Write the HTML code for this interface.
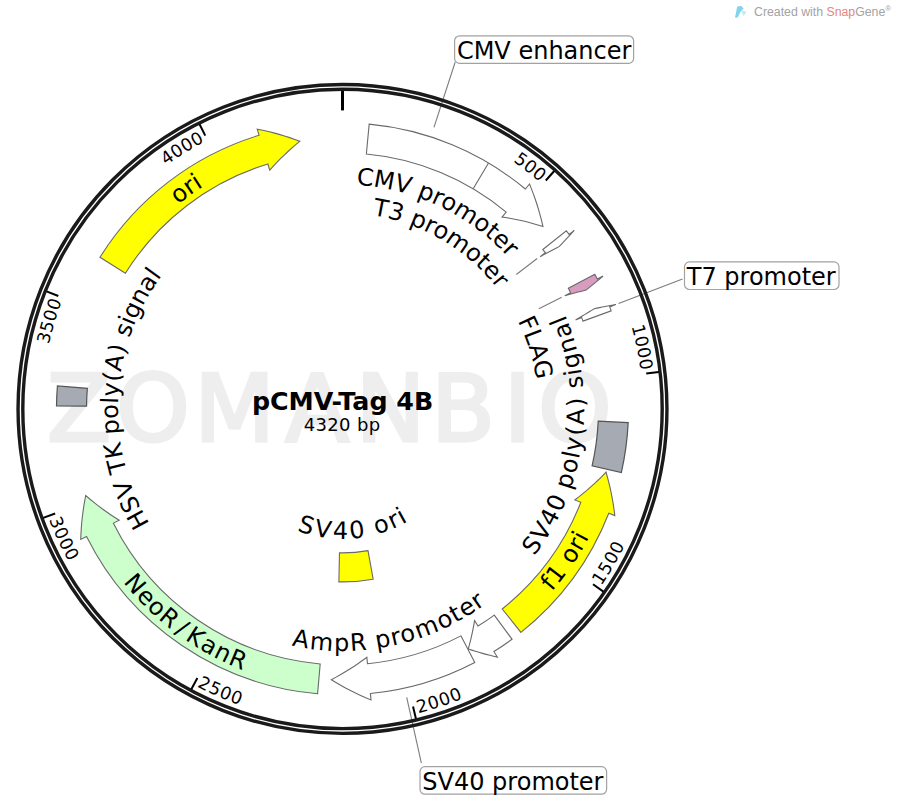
<!DOCTYPE html>
<html><head><meta charset="utf-8"><title>pCMV-Tag 4B</title>
<style>html,body{margin:0;padding:0;background:#fff;overflow:hidden;}svg{display:block;}</style>
</head><body>
<svg width="900" height="803" viewBox="0 0 900 803" font-family="DejaVu Sans, Verdana, sans-serif">
<defs><path id="p1" d="M108.67,597.81 A300.6,300.6 0 0 1 539.97,182.26"/><path id="p2" d="M42.24,394.57 A300.6,300.6 0 0 1 640.68,370.87"/><path id="p3" d="M590.12,578.44 A300.1,300.1 0 0 0 128.08,198.94"/><path id="p4" d="M414.77,700.17 A300.1,300.1 0 0 0 321.91,109.51"/><path id="p5" d="M202.85,674.53 A300.1,300.1 0 0 0 526.15,171.56"/><path id="p6" d="M61.59,514.49 A300.1,300.1 0 0 0 637.48,353.69"/><path id="p7" d="M599.99,564.02 A300.6,300.6 0 0 1 61.99,300.85"/><path id="p8" d="M431.73,695.95 A300.6,300.6 0 0 1 204.78,141.70"/><path id="p9" d="M356.21,184.82 A224.5,224.5 0 0 1 367.91,631.96"/><path id="p10" d="M372.32,215.18 A196,196 0 0 1 346.78,604.85"/><path id="p11" d="M517.60,320.83 A196,196 0 0 1 185.35,526.03"/><path id="p12" d="M149.56,523.69 A224.5,224.5 0 0 1 512.57,262.36"/><path id="p13" d="M178.14,204.48 A262.3,262.3 0 0 1 539.86,581.67"/><path id="p14" d="M520.01,545.85 A224.2,224.2 0 0 0 191.47,243.21"/><path id="p15" d="M538.50,580.49 A260.5,260.5 0 0 0 179.27,205.88"/><path id="p16" d="M294.67,628.25 A224.5,224.5 0 0 0 427.69,201.19"/><path id="p17" d="M302.18,513.93 A112.5,112.5 0 0 0 400.44,312.47"/><path id="p18" d="M136.61,570.92 A262,262 0 0 0 573.40,285.09"/></defs>
<rect width="900" height="803" fill="#fff"/>
<text x="47.0 116.2 194.3 285.2 355.5 431.0 503.7 538.1" y="441.3" font-family="DejaVu Sans" font-size="93.5" fill="#eeeeee" stroke="#eeeeee" stroke-width="3.2">ZOMANBIO</text>
<line x1="433.97" y1="127.39" x2="455.14" y2="62.24" stroke="#7c7c7c" stroke-width="1.1"/><line x1="618.56" y1="303.48" x2="682.55" y2="279.05" stroke="#7c7c7c" stroke-width="1.1"/><line x1="406.71" y1="697.34" x2="421.38" y2="763.23" stroke="#7c7c7c" stroke-width="1.1"/><line x1="537.14" y1="258.46" x2="516.33" y2="274.55" stroke="#7c7c7c" stroke-width="1.1"/><line x1="561.69" y1="297.22" x2="538.88" y2="308.84" stroke="#7c7c7c" stroke-width="1.1"/>
<circle cx="342.5" cy="408.9" r="324.45" fill="none" stroke="#1a1a1a" stroke-width="3.4"/>
<circle cx="342.5" cy="408.9" r="319.7" fill="none" stroke="#1a1a1a" stroke-width="3.4"/>
<line x1="342.50" y1="90.90" x2="342.50" y2="110.40" stroke="#000" stroke-width="3"/><line x1="554.24" y1="170.97" x2="545.79" y2="180.46" stroke="#000" stroke-width="2"/><line x1="658.85" y1="371.92" x2="646.23" y2="373.40" stroke="#000" stroke-width="2"/><line x1="603.40" y1="591.58" x2="593.00" y2="584.30" stroke="#000" stroke-width="2"/><line x1="415.95" y1="718.81" x2="413.02" y2="706.46" stroke="#000" stroke-width="2"/><line x1="191.34" y1="689.24" x2="197.37" y2="678.07" stroke="#000" stroke-width="2"/><line x1="43.21" y1="517.83" x2="55.14" y2="513.49" stroke="#000" stroke-width="2"/><line x1="46.50" y1="291.31" x2="58.31" y2="296.00" stroke="#000" stroke-width="2"/><line x1="199.56" y1="124.28" x2="205.26" y2="135.63" stroke="#000" stroke-width="2"/>
<path d="M366.37,154.02 L369.17,124.15 A286.0,286.0 0 0 1 525.38,189.01 L529.54,184.01 L531.65,189.33 L533.64,194.65 L535.51,199.97 L537.24,205.29 L538.86,210.61 L540.34,215.92 L541.70,221.22 L542.94,226.51 L537.79,224.91 L532.65,223.42 L527.51,222.06 L522.38,220.83 L517.27,219.71 L512.18,218.71 L507.10,217.83 L502.04,217.07 L506.20,212.08 A256.0,256.0 0 0 0 366.37,154.02 Z" fill="#fff" stroke="#6a6a6a" stroke-width="1.1" stroke-linejoin="miter"/><line x1="473.20" y1="188.78" x2="488.52" y2="162.98" stroke="#6a6a6a" stroke-width="1.1"/><path d="M542.85,249.54 L566.33,230.86 A286.0,286.0 0 0 1 569.09,234.40 L574.24,230.43 L572.40,232.45 L570.56,234.46 L568.71,236.46 L566.85,238.46 L564.98,240.45 L563.11,242.43 L561.24,244.41 L559.36,246.38 L556.94,247.64 L554.53,248.90 L552.13,250.18 L549.73,251.46 L547.33,252.75 L544.94,254.05 L542.56,255.36 L540.18,256.67 L545.33,252.70 A256.0,256.0 0 0 0 542.85,249.54 Z" fill="#fff" stroke="#6a6a6a" stroke-width="1.1" stroke-linejoin="miter"/><path d="M568.32,288.32 L594.79,274.19 A286.0,286.0 0 0 1 597.33,279.06 L603.12,276.11 L601.01,277.89 L598.90,279.67 L596.78,281.43 L594.65,283.18 L592.51,284.93 L590.37,286.66 L588.23,288.39 L586.07,290.10 L583.40,290.75 L580.73,291.42 L578.07,292.09 L575.41,292.78 L572.75,293.47 L570.10,294.18 L567.45,294.90 L564.81,295.63 L570.60,292.68 A256.0,256.0 0 0 0 568.32,288.32 Z" fill="#d89cc0" stroke="#6a6a6a" stroke-width="1.1" stroke-linejoin="miter"/><path d="M582.98,321.13 L611.17,310.85 A286.0,286.0 0 0 0 609.68,306.87 L615.75,304.55 L613.06,305.04 L610.37,305.54 L607.69,306.04 L605.00,306.55 L602.32,307.08 L599.64,307.61 L596.97,308.15 L594.29,308.70 L591.97,310.13 L589.64,311.55 L587.31,312.96 L584.97,314.36 L582.63,315.76 L580.29,317.15 L577.94,318.52 L575.58,319.89 L581.66,317.58 A256.0,256.0 0 0 1 582.98,321.13 Z" fill="#fff" stroke="#6a6a6a" stroke-width="1.1" stroke-linejoin="miter"/><path d="M598.21,421.18 L628.17,422.62 A286.0,286.0 0 0 1 621.34,472.51 L592.09,465.83 A256.0,256.0 0 0 0 598.21,421.18 Z" fill="#a6abb3" stroke="#555" stroke-width="1.2"/><path d="M502.21,608.97 L520.93,632.41 A286.0,286.0 0 0 0 608.78,513.25 L614.83,515.63 L614.11,509.98 L613.28,504.39 L612.34,498.86 L611.28,493.39 L610.12,487.98 L608.86,482.64 L607.48,477.37 L606.01,472.16 L602.28,476.02 L598.50,479.77 L594.66,483.41 L590.77,486.94 L586.84,490.36 L582.87,493.66 L578.85,496.86 L574.80,499.94 L580.85,502.31 A256.0,256.0 0 0 1 502.21,608.97 Z" fill="#ffff00" stroke="#6a6a6a" stroke-width="1.1" stroke-linejoin="miter"/><path d="M494.24,615.09 L512.02,639.25 A286.0,286.0 0 0 1 493.89,651.55 L497.33,657.06 L493.59,656.21 L489.88,655.32 L486.19,654.37 L482.54,653.38 L478.92,652.34 L475.34,651.26 L471.78,650.13 L468.26,648.95 L469.24,645.39 L470.17,641.83 L471.04,638.28 L471.86,634.72 L472.62,631.18 L473.32,627.64 L473.97,624.11 L474.57,620.58 L478.01,626.09 A256.0,256.0 0 0 0 494.24,615.09 Z" fill="#fff" stroke="#6a6a6a" stroke-width="1.1" stroke-linejoin="miter"/><path d="M460.91,635.87 L474.78,662.47 A286.0,286.0 0 0 1 370.41,693.54 L371.04,700.00 L365.76,697.78 L360.57,695.46 L355.46,693.04 L350.44,690.54 L345.51,687.95 L340.68,685.27 L335.94,682.51 L331.29,679.67 L336.07,677.14 L340.75,674.52 L345.34,671.82 L349.83,669.05 L354.23,666.20 L358.54,663.27 L362.74,660.27 L366.85,657.21 L367.48,663.68 A256.0,256.0 0 0 0 460.91,635.87 Z" fill="#fff" stroke="#6a6a6a" stroke-width="1.1" stroke-linejoin="miter"/><path d="M320.19,663.93 L317.57,693.81 A286.0,286.0 0 0 1 86.55,536.51 L80.73,539.41 L80.96,533.75 L81.30,528.13 L81.76,522.56 L82.33,517.04 L83.01,511.57 L83.81,506.16 L84.71,500.81 L85.72,495.52 L89.77,499.01 L93.87,502.38 L98.01,505.64 L102.18,508.79 L106.39,511.82 L110.64,514.74 L114.91,517.54 L119.21,520.23 L113.40,523.13 A256.0,256.0 0 0 0 320.19,663.93 Z" fill="#ccffcc" stroke="#6a6a6a" stroke-width="1.1" stroke-linejoin="miter"/><path d="M86.51,406.22 L56.52,405.91 A286.0,286.0 0 0 1 57.42,385.96 L87.32,388.37 A256.0,256.0 0 0 0 86.51,406.22 Z" fill="#a6abb3" stroke="#555" stroke-width="1.2"/><path d="M125.40,273.24 L99.96,257.34 A286.0,286.0 0 0 1 259.12,135.32 L257.23,129.11 L262.80,130.26 L268.31,131.53 L273.75,132.90 L279.12,134.37 L284.42,135.95 L289.65,137.63 L294.80,139.40 L299.87,141.27 L295.74,144.69 L291.70,148.18 L287.78,151.72 L283.96,155.32 L280.24,158.97 L276.64,162.68 L273.15,166.44 L269.76,170.24 L267.87,164.02 A256.0,256.0 0 0 0 125.40,273.24 Z" fill="#ffff00" stroke="#6a6a6a" stroke-width="1.1" stroke-linejoin="miter"/><path d="M368.00,550.62 L373.14,579.17 A173,173 0 0 1 338.88,581.86 L339.48,552.87 A144,144 0 0 0 368.00,550.62 Z" fill="#ffff00" stroke="#6a6a6a" stroke-width="1.1" stroke-linejoin="miter"/>
<text font-size="17.5" fill="#000" text-anchor="end" letter-spacing="0.3"><textPath href="#p1" startOffset="100%"><tspan>500</tspan></textPath></text><text font-size="17.5" fill="#000" text-anchor="end" letter-spacing="0.3"><textPath href="#p2" startOffset="100%"><tspan>1000</tspan></textPath></text><text font-size="17.5" fill="#000" text-anchor="start" letter-spacing="0.3"><textPath href="#p3" startOffset="0"><tspan dy="13.4">1500</tspan></textPath></text><text font-size="17.5" fill="#000" text-anchor="start" letter-spacing="0.3"><textPath href="#p4" startOffset="0"><tspan dy="13.4">2000</tspan></textPath></text><text font-size="17.5" fill="#000" text-anchor="start" letter-spacing="0.3"><textPath href="#p5" startOffset="0"><tspan dy="13.4">2500</tspan></textPath></text><text font-size="17.5" fill="#000" text-anchor="start" letter-spacing="0.3"><textPath href="#p6" startOffset="0"><tspan dy="13.4">3000</tspan></textPath></text><text font-size="17.5" fill="#000" text-anchor="end" letter-spacing="0.3"><textPath href="#p7" startOffset="100%"><tspan>3500</tspan></textPath></text><text font-size="17.5" fill="#000" text-anchor="end" letter-spacing="0.3"><textPath href="#p8" startOffset="100%"><tspan>4000</tspan></textPath></text><text font-size="24" fill="#000" text-anchor="start" ><textPath href="#p9" startOffset="0"><tspan>CMV promoter</tspan></textPath></text><text font-size="24" fill="#000" text-anchor="start" ><textPath href="#p10" startOffset="0"><tspan>T3 promoter</tspan></textPath></text><text font-size="24" fill="#000" text-anchor="start" ><textPath href="#p11" startOffset="0"><tspan>FLAG</tspan></textPath></text><text font-size="24" fill="#000" text-anchor="start" ><textPath href="#p12" startOffset="0"><tspan>HSV TK poly<tspan dx="0.8">(</tspan><tspan dx="0.8">A</tspan><tspan dx="0.8">)</tspan><tspan dx="0.8"> </tspan>signal</tspan></textPath></text><text font-size="24" fill="#000" text-anchor="start" ><textPath href="#p13" startOffset="0"><tspan>ori</tspan></textPath></text><text font-size="24" fill="#000" text-anchor="start" ><textPath href="#p14" startOffset="0"><tspan dy="17.5">SV40 poly<tspan dx="0.8">(</tspan><tspan dx="0.8">A</tspan><tspan dx="0.8">)</tspan><tspan dx="0.8"> </tspan>signal</tspan></textPath></text><text font-size="24" fill="#000" text-anchor="start" ><textPath href="#p15" startOffset="0"><tspan dy="17.5">f1 ori</tspan></textPath></text><text font-size="24" fill="#000" text-anchor="start" ><textPath href="#p16" startOffset="0"><tspan dy="17.5">AmpR promoter</tspan></textPath></text><text font-size="24" fill="#000" text-anchor="start" ><textPath href="#p17" startOffset="0"><tspan dy="17.5">SV40 ori</tspan></textPath></text><text font-size="24" fill="#000" text-anchor="start" ><textPath href="#p18" startOffset="0"><tspan dy="17.5">NeoR<tspan dx="3.4">/</tspan><tspan dx="3.4">K</tspan><tspan dx="0.8">a</tspan>nR</tspan></textPath></text>
<rect x="454.6" y="35.8" width="179.0" height="27.6" rx="5" fill="#fff" stroke="#a2a2a2" stroke-width="1.2"/><text x="456.9" y="58.9" font-size="24">CMV enhancer</text><rect x="684.5" y="261.9" width="154.5" height="27.6" rx="5" fill="#fff" stroke="#a2a2a2" stroke-width="1.2"/><text x="686.8" y="285.0" font-size="24">T7 promoter</text><rect x="420.0" y="766.6" width="186.6" height="27.6" rx="5" fill="#fff" stroke="#a2a2a2" stroke-width="1.2"/><text x="422.3" y="789.7" font-size="24">SV40 promoter</text>
<text x="342.6" y="409.7" font-family="DejaVu Sans" font-weight="bold" font-size="24.4" text-anchor="middle" textLength="181.4" lengthAdjust="spacingAndGlyphs">pCMV-Tag 4B</text>
<text x="341.9" y="431.1" font-size="18" text-anchor="middle" textLength="76.4" lengthAdjust="spacing">4320 bp</text>
<path d="M735,17.6 L737.2,6.4 L741.3,6.1 L743.6,8.6 L740.2,12.2 L737.8,17.6 Z" fill="#7fd5ee"/>
<path d="M741.6,10.6 L746.6,11.8 L743.4,16.1 Z" fill="#b3ecf7"/>
<text x="754" y="16.1" font-family="Liberation Sans" font-size="12.3" fill="#a3a3a3">Created with <tspan fill="#e3867f">Snap</tspan>Gene<tspan font-size="8" dy="-5">®</tspan></text>
</svg>
</body></html>
